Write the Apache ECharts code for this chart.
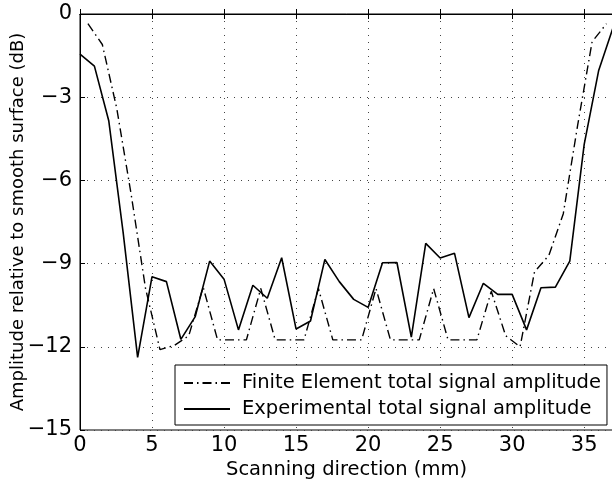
<!DOCTYPE html>
<html>
<head>
<meta charset="utf-8">
<script src="https://cdn.jsdelivr.net/npm/echarts@6/dist/echarts.min.js"></script>
<style>
  html, body { margin: 0; padding: 0; background: #fff; }
  #chart { width: 612px; height: 489px; }
</style>
</head>
<body>
<div id="chart"></div>
<script>
// experimental scan, 1 mm steps
var expX = [0, 1, 2, 3, 4, 5, 6, 7, 8, 9, 10, 11, 12, 13, 14, 15, 16, 17, 18, 19,
            20, 21, 22, 23, 24, 25, 26, 27, 28, 29, 30, 31, 32, 33, 34, 35, 36, 37];
var expAmp = [-1.45, -1.88, -3.86, -7.9, -12.38, -9.47, -9.65, -11.73, -10.91, -8.91,
              -9.56, -11.39, -9.78, -10.25, -8.79, -11.36, -11.07, -8.85, -9.65, -10.29,
              -10.58, -8.97, -8.96, -11.65, -8.27, -8.8, -8.63, -10.95, -9.71, -10.11,
              -10.11, -11.39, -9.87, -9.85, -8.91, -4.7, -2.05, -0.5];

// finite element model, offset grid
var feX = [0.55, 1.55, 2.55, 3.55, 4.55, 5.55, 6.55, 7.55, 8.55, 9.55, 10.55, 11.55,
           12.55, 13.55, 14.55, 15.55, 16.55, 17.55, 18.55, 19.55, 20.55, 21.55, 22.55,
           23.55, 24.55, 25.55, 26.55, 27.55, 28.55, 29.55, 30.55, 31.55, 32.55, 33.55,
           34.55, 35.55, 36.55];
var feAmp = [-0.35, -1.1, -3.4, -6.5, -9.9, -12.1, -11.95, -11.6, -9.85, -11.75, -11.75, -11.75,
             -9.9, -11.75, -11.75, -11.75, -9.9, -11.75, -11.75, -11.75, -9.9, -11.75, -11.75,
             -11.75, -9.9, -11.75, -11.75, -11.75, -10.0, -11.6, -12.0, -9.3, -8.7, -7.2,
             -4.0, -1.0, -0.35];

var seriesNames = ['Finite Element total signal amplitude', 'Experimental total signal amplitude'];

function pairs(xs, ys) {
  return xs.map(function (x, i) { return [x, ys[i]]; });
}

var font = '"DejaVu Sans", "Liberation Sans", Arial, sans-serif';
var minus = function (v) { return v < 0 ? '\u2212' + Math.abs(v) : String(v); };
var dots = { color: '#444', type: [1, 6], width: 1 };

var chart = echarts.init(document.getElementById('chart'));
chart.setOption({
  animation: false,
  backgroundColor: '#fff',
  textStyle: { fontFamily: font, color: '#000' },
  grid: {
    left: 80, right: -1, top: 14, bottom: 59,
    containLabel: false, outerBoundsMode: 'none',
    show: true, borderColor: '#000', borderWidth: 1
  },
  legend: {
    data: seriesNames,
    orient: 'vertical',
    left: 175, top: 365,
    backgroundColor: '#fff',
    borderColor: '#000', borderWidth: 1,
    padding: [8, 6, 6, 8],
    itemGap: 6,
    itemWidth: 46, itemHeight: 14,
    itemStyle: { opacity: 0 },
    textStyle: { fontSize: 19.5, color: '#000', fontFamily: font, padding: [0, 0, 0, 7] }
  },
  xAxis: [{
    type: 'value', min: 0, max: 37, interval: 5,
    name: 'Scanning direction (mm)', nameLocation: 'middle', nameGap: 30, nameMoveOverlap: false,
    nameTextStyle: { fontSize: 19.5, color: '#000', fontFamily: font },
    axisLine: { show: true, lineStyle: { color: '#000', width: 1 } },
    axisTick: { inside: true, length: 5, lineStyle: { color: '#000' } },
    axisLabel: { fontSize: 21, color: '#000', margin: 5, showMaxLabel: false, fontFamily: font },
    splitLine: { show: true, lineStyle: dots }
  }, {
    type: 'value', min: 0, max: 37, interval: 5, position: 'top',
    axisLine: { show: true, lineStyle: { color: '#000' } },
    axisTick: { inside: true, length: 5, lineStyle: { color: '#000' } },
    axisLabel: { show: false },
    splitLine: { show: false }
  }],
  yAxis: [{
    type: 'value', min: -15, max: 0, interval: 3,
    name: 'Amplitude relative to smooth surface (dB)', nameLocation: 'middle', nameGap: 53,
    nameMoveOverlap: false,
    nameTextStyle: { fontSize: 18, color: '#000', fontFamily: font },
    axisLine: { show: true, lineStyle: { color: '#000', width: 1 } },
    axisTick: { inside: true, length: 5, lineStyle: { color: '#000' } },
    axisLabel: { fontSize: 21, color: '#000', margin: 8, formatter: minus, fontFamily: font },
    splitLine: { show: true, lineStyle: dots }
  }],
  series: [{
    name: seriesNames[0],
    type: 'line',
    data: pairs(feX, feAmp),
    showSymbol: false, symbol: 'none',
    lineStyle: { color: '#000', width: 1.4, type: [9, 4, 1.5, 4] },
    itemStyle: { color: '#000' }
  }, {
    name: seriesNames[1],
    type: 'line',
    data: pairs(expX, expAmp),
    showSymbol: false, symbol: 'none',
    lineStyle: { color: '#000', width: 1.6, type: 'solid' },
    itemStyle: { color: '#000' }
  }]
});
</script>
</body>
</html>
